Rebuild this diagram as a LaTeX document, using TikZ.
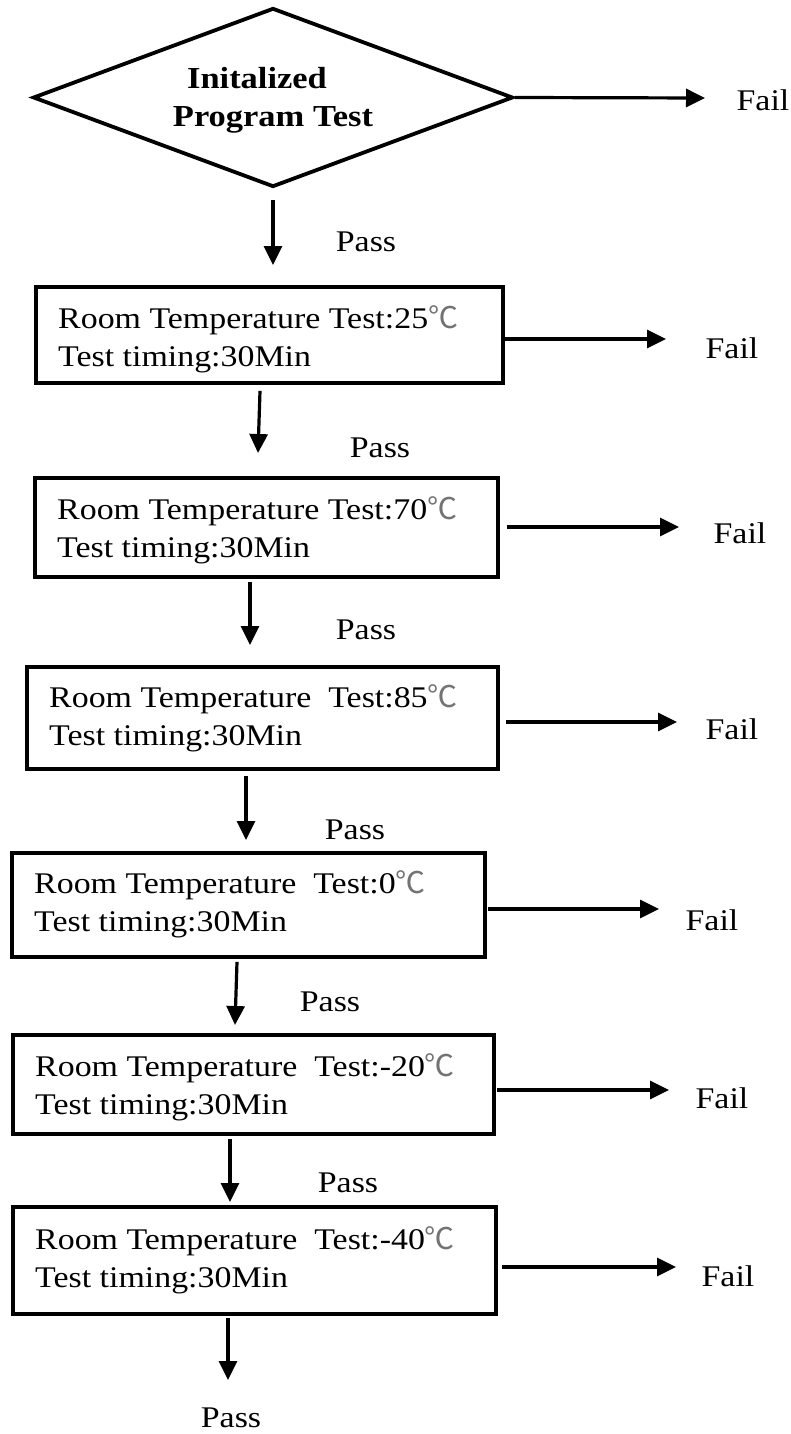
\documentclass[tikz,border=0pt]{standalone}
\usepackage{fontspec}
\setmainfont{Liberation Serif}[FakeStretch=1.13]
\newfontfamily\cjkfont{Noto Sans CJK SC}
\usetikzlibrary{shapes.geometric,arrows.meta,calc}
\newcommand\degc{{\cjkfont\color{black!55}℃}}

\begin{document}
\begin{tikzpicture}[x=1pt,y=-1pt,
  every node/.style={font=\fontsize{30}{38}\selectfont, inner sep=0pt},
  stagebox/.style={draw, line width=3.8pt, anchor=north west, inner sep=0pt},
  txt/.style={anchor=base west},
  lbl/.style={anchor=center},
  flow/.style={line width=3.2pt, -{Triangle[length=19pt,width=18pt]}},
  decision/.style={draw, diamond, line width=3.8pt, aspect=2.68,
    minimum width=480pt, minimum height=179pt, inner sep=0pt},
  decisiontext/.style={align=center, font=\fontsize{30.5}{38}\selectfont\bfseries}
]
\useasboundingbox (0,0) rectangle (791,1434);

% --- initial check ---
\node[decision] (init) at (273,97.5) {};
\node[decisiontext] (initt) at ($(init.center)+(0,3)$) {Initalized\hspace*{32pt}\\Program Test};
\coordinate (f0tip) at (705,98);
\draw[flow] (init.east) -- (f0tip);
\node[lbl] (f0) at (763,100) {Fail};
\coordinate (p0tip) at (273,265);
\draw[flow] ($(init.south)+(0,11)$) -- (p0tip);
\node[lbl] (p0) at (366,242) {Pass};

% --- stage 1: 25 C ---
\node[stagebox, minimum width=467pt, minimum height=96pt] (s1) at (34,285) {};
\node[txt] (s1a) at ($(s1.north west)+(24,43)$) {Room Temperature Test:25\degc};
\node[txt] (s1b) at ($(s1a.base west)+(0,38)$) {Test timing:30Min};
\coordinate (f1tip) at (666,339);
\draw[flow] (s1.east |- f1tip) -- (f1tip);
\node[lbl] (f1) at (732,348) {Fail};
\coordinate (p1tip) at (258,453);
\draw[flow] ($(s1.south west)+(226,6)$) -- (p1tip);
\node[lbl] (p1) at (380,448) {Pass};

% --- stage 2: 70 C ---
\node[stagebox, minimum width=463pt, minimum height=99pt] (s2) at (33,476) {};
\node[txt] (s2a) at ($(s2.north west)+(24,43)$) {Room Temperature Test:70\degc};
\node[txt] (s2b) at ($(s2a.base west)+(0,38)$) {Test timing:30Min};
\coordinate (f2tip) at (679,527);
\draw[flow] ($(s2.east |- f2tip)+(7.5,0)$) -- (f2tip);
\node[lbl] (f2) at (740,533) {Fail};
\coordinate (p2tip) at (250,645);
\draw[flow] ($(s2.south west)+(217,3)$) -- (p2tip);
\node[lbl] (p2) at (366,630) {Pass};

% --- stage 3: 85 C ---
\node[stagebox, minimum width=471pt, minimum height=102pt] (s3) at (25,665) {};
\node[txt] (s3a) at ($(s3.north west)+(24,42)$) {Room Temperature\ \ Test:85\degc};
\node[txt] (s3b) at ($(s3a.base west)+(0,38)$) {Test timing:30Min};
\coordinate (f3tip) at (677,722);
\draw[flow] ($(s3.east |- f3tip)+(6.5,0)$) -- (f3tip);
\node[lbl] (f3) at (732,729) {Fail};
\coordinate (p3tip) at (246,840);
\draw[flow] ($(s3.south west)+(221,5)$) -- (p3tip);
\node[lbl] (p3) at (355,830) {Pass};

% --- stage 4: 0 C ---
\node[stagebox, minimum width=473pt, minimum height=104pt] (s4) at (10,851) {};
\node[txt] (s4a) at ($(s4.north west)+(24,42)$) {Room Temperature\ \ Test:0\degc};
\node[txt] (s4b) at ($(s4a.base west)+(0,38)$) {Test timing:30Min};
\coordinate (f4tip) at (659,909);
\draw[flow] ($(s4.east |- f4tip)+(1.5,0)$) -- (f4tip);
\node[lbl] (f4) at (712,920) {Fail};
\coordinate (p4tip) at (235,1025);
\draw[flow] ($(s4.south west)+(227,3)$) -- (p4tip);
\node[lbl] (p4) at (330,1002) {Pass};

% --- stage 5: -20 C ---
\node[stagebox, minimum width=481pt, minimum height=99pt] (s5) at (11,1033) {};
\node[txt] (s5a) at ($(s5.north west)+(24,43)$) {Room Temperature\ \ Test:-20\degc};
\node[txt] (s5b) at ($(s5a.base west)+(0,38)$) {Test timing:30Min};
\coordinate (f5tip) at (669,1090);
\draw[flow] ($(s5.east |- f5tip)+(1.5,0)$) -- (f5tip);
\node[lbl] (f5) at (722,1098) {Fail};
\coordinate (p5tip) at (230,1202);
\draw[flow] ($(s5.south west)+(219,3)$) -- (p5tip);
\node[lbl] (p5) at (348,1183) {Pass};

% --- stage 6: -40 C ---
\node[stagebox, minimum width=483pt, minimum height=107pt] (s6) at (11,1205) {};
\node[txt] (s6a) at ($(s6.north west)+(24,44)$) {Room Temperature\ \ Test:-40\degc};
\node[txt] (s6b) at ($(s6a.base west)+(0,38)$) {Test timing:30Min};
\coordinate (f6tip) at (676,1267);
\draw[flow] ($(s6.east |- f6tip)+(4.5,0)$) -- (f6tip);
\node[lbl] (f6) at (728,1276) {Fail};
\coordinate (p6tip) at (228,1380);
\draw[flow] ($(s6.south west)+(217,2)$) -- (p6tip);
\node[lbl] (p6) at (231,1418) {Pass};
\end{tikzpicture}
\end{document}
